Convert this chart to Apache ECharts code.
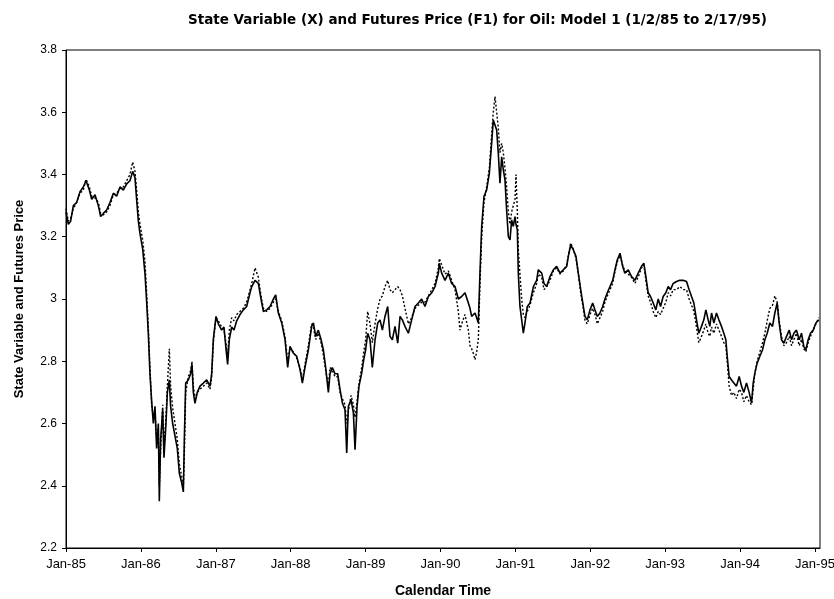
<!DOCTYPE html>
<html>
<head>
<meta charset="utf-8">
<title>State Variable and Futures Price</title>
<script src="https://cdn.jsdelivr.net/npm/echarts@6/dist/echarts.min.js"></script>
<style>
	html, body { margin: 0; padding: 0; background: #fff; }
	#main { width: 834px; height: 599px; }
</style>
</head>
<body>
<div id="main"></div>
<script>
// calendar time, in decimal years
var dates = [
	1985.000, 1985.031, 1985.062, 1985.098, 1985.142, 1985.187, 1985.231, 1985.267, 1985.312, 1985.343,
	1985.387, 1985.432, 1985.463, 1985.498, 1985.543, 1985.587, 1985.632, 1985.676, 1985.721, 1985.765,
	1985.810, 1985.854, 1985.890, 1985.921, 1985.943, 1985.966, 1985.988, 1986.024, 1986.055, 1986.077,
	1986.099, 1986.121, 1986.144, 1986.166, 1986.188, 1986.210, 1986.233, 1986.246, 1986.264, 1986.291,
	1986.308, 1986.335, 1986.353, 1986.380, 1986.397, 1986.424, 1986.455, 1986.486, 1986.513, 1986.544,
	1986.567, 1986.580, 1986.598, 1986.633, 1986.664, 1986.682, 1986.700, 1986.722, 1986.753, 1986.789,
	1986.834, 1986.878, 1986.923, 1986.945, 1986.967, 1987.003, 1987.034, 1987.078, 1987.109, 1987.136,
	1987.158, 1987.181, 1987.212, 1987.243, 1987.279, 1987.323, 1987.368, 1987.412, 1987.457, 1987.480,
	1987.524, 1987.568, 1987.604, 1987.635, 1987.680, 1987.724, 1987.769, 1987.800, 1987.835, 1987.880,
	1987.924, 1987.960, 1987.991, 1988.036, 1988.080, 1988.125, 1988.156, 1988.191, 1988.236, 1988.280,
	1988.303, 1988.334, 1988.369, 1988.405, 1988.436, 1988.467, 1988.503, 1988.525, 1988.556, 1988.592,
	1988.627, 1988.659, 1988.690, 1988.725, 1988.748, 1988.770, 1988.806, 1988.837, 1988.859, 1988.886,
	1988.912, 1988.948, 1988.975, 1989.001, 1989.028, 1989.059, 1989.090, 1989.126, 1989.162, 1989.193,
	1989.224, 1989.259, 1989.295, 1989.326, 1989.357, 1989.393, 1989.429, 1989.460, 1989.491, 1989.526,
	1989.571, 1989.615, 1989.660, 1989.704, 1989.749, 1989.793, 1989.838, 1989.883, 1989.927, 1989.972,
	1989.984, 1990.016, 1990.060, 1990.105, 1990.149, 1990.194, 1990.238, 1990.260, 1990.283, 1990.327,
	1990.372, 1990.394, 1990.416, 1990.438, 1990.461, 1990.483, 1990.505, 1990.527, 1990.550, 1990.581,
	1990.616, 1990.652, 1990.683, 1990.705, 1990.728, 1990.750, 1990.772, 1990.794, 1990.817, 1990.839,
	1990.861, 1990.883, 1990.906, 1990.928, 1990.950, 1990.972, 1990.995, 1991.008, 1991.026, 1991.039,
	1991.061, 1991.084, 1991.106, 1991.128, 1991.159, 1991.195, 1991.240, 1991.284, 1991.306, 1991.351,
	1991.382, 1991.418, 1991.462, 1991.507, 1991.551, 1991.596, 1991.640, 1991.685, 1991.707, 1991.738,
	1991.774, 1991.809, 1991.840, 1991.872, 1991.907, 1991.929, 1991.960, 1991.996, 1992.032, 1992.063,
	1992.094, 1992.129, 1992.165, 1992.196, 1992.227, 1992.263, 1992.299, 1992.330, 1992.361, 1992.397,
	1992.432, 1992.461, 1992.506, 1992.551, 1992.595, 1992.640, 1992.684, 1992.715, 1992.742, 1992.773,
	1992.804, 1992.840, 1992.875, 1992.907, 1992.938, 1992.973, 1993.009, 1993.040, 1993.071, 1993.107,
	1993.151, 1993.196, 1993.240, 1993.285, 1993.320, 1993.352, 1993.383, 1993.418, 1993.449, 1993.485,
	1993.516, 1993.543, 1993.574, 1993.596, 1993.619, 1993.650, 1993.685, 1993.717, 1993.752, 1993.783,
	1993.810, 1993.828, 1993.854, 1993.886, 1993.917, 1993.952, 1993.988, 1994.019, 1994.050, 1994.086,
	1994.121, 1994.153, 1994.175, 1994.197, 1994.228, 1994.264, 1994.300, 1994.331, 1994.362, 1994.397,
	1994.433, 1994.464, 1994.495, 1994.522, 1994.553, 1994.584, 1994.620, 1994.656, 1994.687, 1994.718,
	1994.753, 1994.789, 1994.820, 1994.851, 1994.878, 1994.909, 1994.940, 1994.976, 1995.012, 1995.052
];

// state variable X (solid line)
var stateX = [
	3.28, 3.24, 3.25, 3.30, 3.31, 3.345, 3.36, 3.38, 3.35, 3.32,
	3.335, 3.30, 3.265, 3.275, 3.286, 3.31, 3.34, 3.33, 3.36, 3.35,
	3.37, 3.38, 3.41, 3.39, 3.32, 3.25, 3.21, 3.16, 3.08, 2.99,
	2.89, 2.76, 2.67, 2.60, 2.655, 2.52, 2.60, 2.35, 2.55, 2.645,
	2.49, 2.60, 2.70, 2.74, 2.655, 2.60, 2.56, 2.52, 2.44, 2.41,
	2.38, 2.55, 2.73, 2.74, 2.76, 2.79, 2.70, 2.665, 2.70, 2.72,
	2.73, 2.74, 2.72, 2.76, 2.87, 2.944, 2.92, 2.90, 2.91, 2.84,
	2.79, 2.87, 2.91, 2.90, 2.93, 2.95, 2.965, 2.976, 3.02, 3.04,
	3.06, 3.05, 3.00, 2.96, 2.965, 2.976, 3.00, 3.013, 2.955, 2.923,
	2.87, 2.78, 2.848, 2.826, 2.816, 2.773, 2.73, 2.78, 2.837, 2.912,
	2.923, 2.88, 2.90, 2.87, 2.837, 2.78, 2.70, 2.76, 2.78, 2.76,
	2.76, 2.709, 2.666, 2.644, 2.505, 2.655, 2.676, 2.634, 2.516, 2.655,
	2.72, 2.762, 2.805, 2.837, 2.89, 2.869, 2.78, 2.869, 2.923, 2.933,
	2.90, 2.944, 2.976, 2.88, 2.869, 2.912, 2.858, 2.944, 2.933, 2.912,
	2.89, 2.933, 2.976, 2.987, 3.00, 2.976, 3.008, 3.02, 3.04, 3.083,
	3.115, 3.083, 3.06, 3.083, 3.05, 3.04, 3.00, 3.00, 3.008, 3.02,
	2.987, 2.97, 2.944, 2.95, 2.955, 2.94, 2.923, 3.083, 3.233, 3.33,
	3.35, 3.404, 3.50, 3.575, 3.58, 3.543, 3.468, 3.372, 3.457, 3.415,
	3.383, 3.286, 3.20, 3.19, 3.254, 3.233, 3.265, 3.24, 3.222, 3.083,
	2.976, 2.933, 2.89, 2.923, 2.976, 2.987, 3.04, 3.06, 3.094, 3.083,
	3.05, 3.04, 3.072, 3.094, 3.105, 3.083, 3.094, 3.105, 3.137, 3.174,
	3.158, 3.137, 3.083, 3.03, 2.976, 2.944, 2.933, 2.965, 2.987, 2.965,
	2.944, 2.955, 2.976, 3.00, 3.02, 3.04, 3.06, 3.094, 3.126, 3.147,
	3.105, 3.083, 3.094, 3.072, 3.06, 3.083, 3.105, 3.115, 3.072, 3.02,
	3.008, 2.987, 2.965, 3.00, 2.976, 3.008, 3.02, 3.04, 3.03, 3.05,
	3.056, 3.06, 3.06, 3.056, 3.03, 3.008, 2.987, 2.933, 2.89, 2.912,
	2.933, 2.965, 2.933, 2.912, 2.955, 2.923, 2.955, 2.933, 2.912, 2.89,
	2.869, 2.816, 2.751, 2.74, 2.73, 2.72, 2.751, 2.72, 2.70, 2.73,
	2.70, 2.666, 2.73, 2.762, 2.794, 2.816, 2.837, 2.869, 2.89, 2.923,
	2.912, 2.955, 2.987, 2.923, 2.869, 2.858, 2.88, 2.90, 2.869, 2.89,
	2.90, 2.869, 2.89, 2.847, 2.837, 2.869, 2.89, 2.90, 2.923, 2.933
];

// futures price F1 (dotted line)
var futuresF1 = [
	3.29, 3.25, 3.26, 3.29, 3.31, 3.34, 3.35, 3.385, 3.36, 3.33,
	3.325, 3.31, 3.275, 3.27, 3.28, 3.30, 3.335, 3.34, 3.355, 3.36,
	3.38, 3.40, 3.44, 3.41, 3.35, 3.28, 3.24, 3.19, 3.12, 3.02,
	2.91, 2.78, 2.66, 2.62, 2.64, 2.55, 2.58, 2.40, 2.52, 2.66,
	2.52, 2.62, 2.72, 2.84, 2.72, 2.65, 2.60, 2.55, 2.47, 2.43,
	2.40, 2.50, 2.70, 2.75, 2.77, 2.80, 2.72, 2.68, 2.70, 2.71,
	2.72, 2.73, 2.71, 2.75, 2.86, 2.94, 2.93, 2.91, 2.90, 2.86,
	2.82, 2.90, 2.94, 2.93, 2.95, 2.96, 2.97, 2.99, 3.03, 3.05,
	3.10, 3.07, 3.01, 2.97, 2.96, 2.97, 2.99, 3.00, 2.96, 2.93,
	2.88, 2.80, 2.84, 2.83, 2.81, 2.78, 2.74, 2.79, 2.85, 2.92,
	2.91, 2.87, 2.89, 2.86, 2.82, 2.77, 2.72, 2.78, 2.77, 2.75,
	2.75, 2.70, 2.68, 2.66, 2.60, 2.64, 2.69, 2.66, 2.62, 2.67,
	2.73, 2.78, 2.83, 2.87, 2.96, 2.92, 2.86, 2.92, 2.97, 3.00,
	3.01, 3.04, 3.06, 3.03, 3.02, 3.03, 3.04, 3.03, 3.01, 2.97,
	2.92, 2.94, 2.97, 2.98, 2.99, 2.99, 3.01, 3.03, 3.05, 3.10,
	3.13, 3.11, 3.08, 3.09, 3.06, 3.03, 2.96, 2.90, 2.92, 2.95,
	2.90, 2.85, 2.84, 2.826, 2.805, 2.83, 2.87, 3.05, 3.20, 3.31,
	3.36, 3.42, 3.53, 3.60, 3.65, 3.60, 3.55, 3.47, 3.50, 3.47,
	3.42, 3.36, 3.28, 3.24, 3.28, 3.30, 3.32, 3.40, 3.28, 3.16,
	3.08, 3.00, 2.95, 2.94, 2.96, 2.98, 3.02, 3.05, 3.08, 3.07,
	3.03, 3.04, 3.06, 3.09, 3.10, 3.08, 3.09, 3.11, 3.14, 3.18,
	3.16, 3.13, 3.08, 3.02, 2.97, 2.93, 2.92, 2.95, 2.97, 2.95,
	2.92, 2.94, 2.96, 2.99, 3.01, 3.03, 3.05, 3.09, 3.12, 3.14,
	3.11, 3.09, 3.08, 3.07, 3.05, 3.07, 3.10, 3.11, 3.06, 3.01,
	2.99, 2.96, 2.94, 2.96, 2.95, 2.97, 2.99, 3.02, 3.01, 3.03,
	3.03, 3.04, 3.03, 3.03, 3.00, 2.98, 2.96, 2.91, 2.86, 2.88,
	2.90, 2.92, 2.89, 2.88, 2.91, 2.89, 2.92, 2.90, 2.88, 2.86,
	2.85, 2.80, 2.72, 2.69, 2.70, 2.68, 2.71, 2.70, 2.67, 2.69,
	2.67, 2.66, 2.71, 2.76, 2.80, 2.83, 2.86, 2.89, 2.93, 2.97,
	2.98, 3.01, 2.99, 2.93, 2.88, 2.85, 2.86, 2.88, 2.85, 2.87,
	2.89, 2.85, 2.87, 2.84, 2.83, 2.86, 2.88, 2.90, 2.92, 2.94
];

var tickLabels = ['Jan-85', 'Jan-86', 'Jan-87', 'Jan-88', 'Jan-89', 'Jan-90',
	'Jan-91', 'Jan-92', 'Jan-93', 'Jan-94', 'Jan-95'];

function pairs(xs, ys) {
	var out = [];
	for (var i = 0; i < xs.length; i++) {
		out.push([xs[i], ys[i]]);
	}
	return out;
}

var font = 'Liberation Sans, Arial, sans-serif';
var myChart = echarts.init(document.getElementById('main'));
var option = {
	animation: false,
	backgroundColor: '#fff',
	title: {
		text: 'State Variable (X) and Futures Price (F1) for Oil: Model 1 (1/2/85 to 2/17/95)',
		left: 183,
		top: 8,
		textStyle: { fontFamily: 'DejaVu Sans', fontSize: 13.5, fontWeight: 'bold', color: '#000' }
	},
	grid: {
		left: 66,
		right: 14,
		top: 50,
		bottom: 51,
		outerBoundsMode: 'none',
		show: true,
		borderColor: '#000',
		borderWidth: 1
	},
	xAxis: {
		type: 'value',
		min: 1985,
		max: 1995.067,
		interval: 1,
		name: 'Calendar Time',
		nameLocation: 'middle',
		nameGap: 36,
		nameTextStyle: { fontFamily: font, fontSize: 14, fontWeight: 'bold', color: '#000' },
		splitLine: { show: false },
		axisLine: { lineStyle: { color: '#000', width: 1 } },
		axisTick: { length: 4, lineStyle: { color: '#000' } },
		axisLabel: {
			margin: 10,
			showMaxLabel: false,
			fontFamily: font,
			fontSize: 13,
			color: '#000',
			formatter: function(v) {
				var i = Math.round(v - 1985);
				return Math.abs(v - 1985 - i) < 1e-6 ? tickLabels[i] : '';
			}
		}
	},
	yAxis: {
		type: 'value',
		min: 2.2,
		max: 3.8,
		interval: 0.2,
		name: 'State Variable and Futures Price',
		nameLocation: 'middle',
		nameGap: 40,
		nameTextStyle: { fontFamily: font, fontSize: 13, fontWeight: 'bold', color: '#000' },
		splitLine: { show: false },
		axisLine: { show: true, lineStyle: { color: '#000', width: 1 } },
		axisTick: { show: true, length: 4, lineStyle: { color: '#000' } },
		axisLabel: { margin: 9, fontFamily: font, fontSize: 12, color: '#000' }
	},
	series: [
		{
			name: 'X',
			type: 'line',
			data: pairs(dates, stateX),
			showSymbol: false,
			symbol: 'none',
			lineStyle: { color: '#000', width: 1.6 }
		},
		{
			name: 'F1',
			type: 'line',
			data: pairs(dates, futuresF1),
			showSymbol: false,
			symbol: 'none',
			lineStyle: { color: '#000', width: 1.4, type: [2, 2] }
		}
	]
};
myChart.setOption(option);
</script>
</body>
</html>
